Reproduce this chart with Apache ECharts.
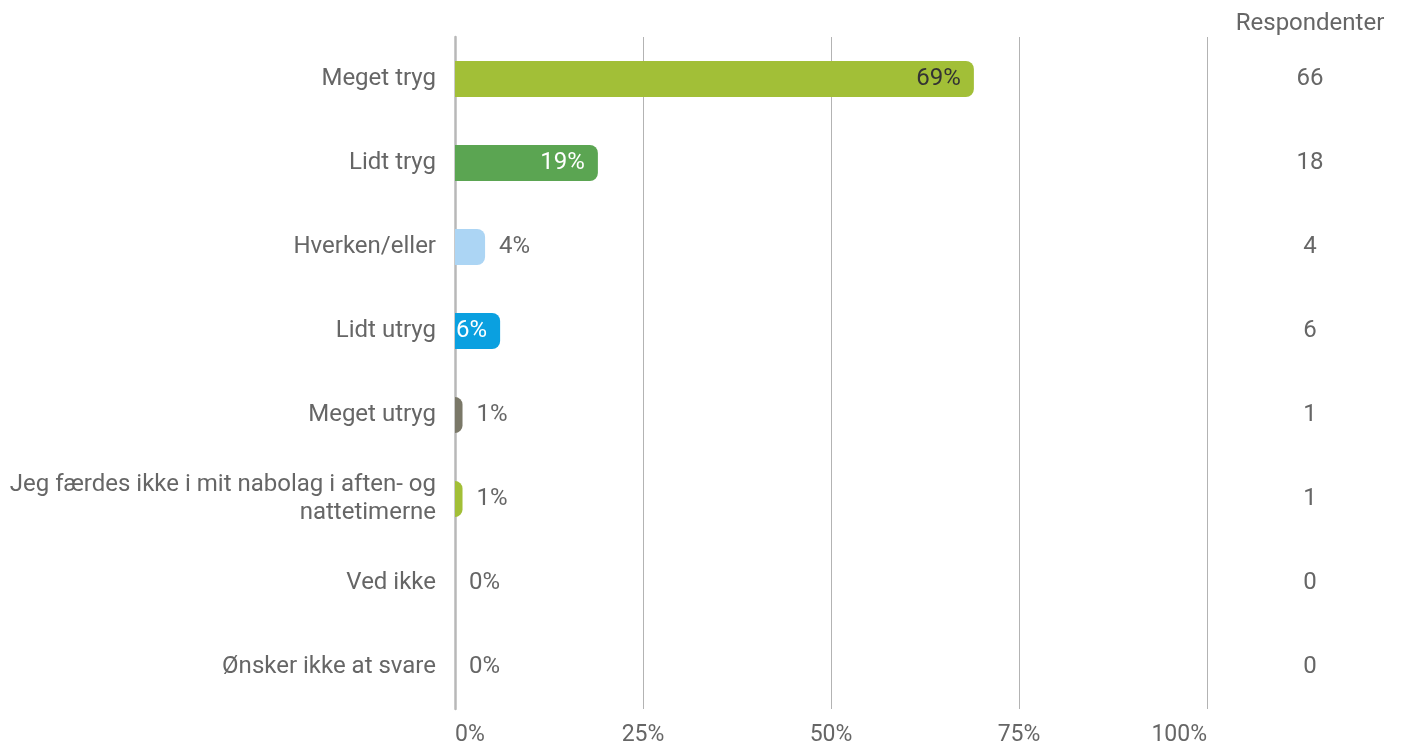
<!DOCTYPE html>
<html>
<head>
<meta charset="utf-8">
<script src="https://cdn.jsdelivr.net/npm/echarts@6/dist/echarts.min.js"></script>
<style>
  html, body { margin: 0; padding: 0; background: #fff; }
  #chart { width: 1401px; height: 749px; }
</style>
</head>
<body>
<div id="chart"></div>
<script>
// svarkategorier, top til bund
const categories = [
  'Meget tryg',
  'Lidt tryg',
  'Hverken/eller',
  'Lidt utryg',
  'Meget utryg',
  'Jeg færdes ikke i mit nabolag i aften- og\nnattetimerne',
  'Ved ikke',
  'Ønsker ikke at svare'
]
const percentValues = [69, 19, 4, 6, 1, 1, 0, 0]
const respondents = [66, 18, 4, 6, 1, 1, 0, 0]
const xTicks = [0, 25, 50, 75, 100]

const barColors = ['#a2bf37', '#5ba552', '#acd5f4', '#0aa0e0', '#7a7868', '#a2bf37', '#a2bf37', '#a2bf37']
// label inde i søjlen for de store værdier
const insideColor = ['#333333', '#ffffff', null, '#ffffff', null, null, null, null]

const chart = echarts.init(document.getElementById('chart'))
const font = 'Roboto, sans-serif'

chart.setOption({
  animation: false,
  grid: {
    left: 455,
    right: 194,
    top: 37,
    bottom: 40
  },
  xAxis: {
    type: 'value',
    min: xTicks[0],
    max: xTicks[xTicks.length - 1],
    interval: 25,
    axisLine: { show: false },
    axisTick: { show: false },
    splitLine: { lineStyle: { color: '#b3b3b3', width: 1 } },
    axisLabel: {
      formatter: '{value}%',
      color: '#666',
      fontSize: 23,
      fontFamily: font,
      margin: 15,
      alignMinLabel: 'left',
      alignMaxLabel: 'right'
    }
  },
  yAxis: [
    {
      type: 'category',
      data: categories,
      inverse: true,
      axisTick: { show: false },
      axisLine: { lineStyle: { color: '#b8b8b8', width: 2.5 } },
      axisLabel: {
        color: '#666',
        fontSize: 24,
        fontFamily: font,
        margin: 19,
        lineHeight: 28,
        padding: [4, 0, 0, 0],
        align: 'right'
      }
    },
    {
      type: 'category',
      data: respondents,
      inverse: true,
      position: 'right',
      offset: 103,
      name: 'Respondenter',
      nameLocation: 'start',
      nameGap: 1,
      nameTextStyle: { color: '#666', fontSize: 24, fontFamily: font, align: 'center', verticalAlign: 'bottom' },
      axisLine: { show: false },
      axisTick: { show: false },
      axisLabel: {
        color: '#666',
        fontSize: 24,
        fontFamily: font,
        margin: 0,
        padding: [4, 0, 0, 0],
        align: 'center'
      }
    }
  ],
  series: [
    {
      type: 'bar',
      barWidth: 36,
      data: percentValues.map((v, i) => ({
        value: v,
        itemStyle: { color: barColors[i], borderRadius: [0, 8, 8, 0] },
        label: insideColor[i]
          ? { position: 'insideRight', distance: 13, color: insideColor[i] }
          : { position: 'right', distance: 14, color: '#666' }
      })),
      label: {
        show: true,
        formatter: '{c}%',
        fontSize: 24,
        fontFamily: font,
        padding: [4, 0, 0, 0]
      }
    }
  ]
})
</script>
</body>
</html>
